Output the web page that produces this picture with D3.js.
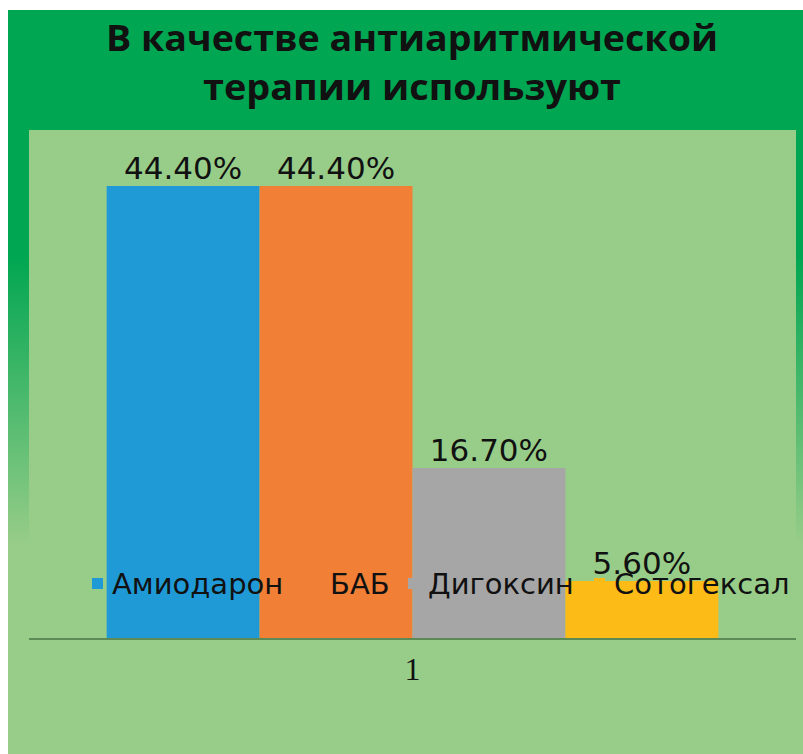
<!DOCTYPE html>
<html>
<head>
<meta charset="utf-8">
<script src="https://cdn.jsdelivr.net/npm/d3@7"></script>
<style>
  html, body { margin: 0; padding: 0; background: #fff; }
  svg { display: block; }
</style>
</head>
<body>
<svg id="chart" width="803" height="754"></svg>
<script>
// data
const titleLines = ["В качестве антиаритмической", "терапии используют"];
const categories = ["1"];
const seriesNames = ["Амиодарон", "БАБ", "Дигоксин", "Сотогексал"];
const seriesValues = [44.4, 44.4, 16.7, 5.6];
const seriesColors = ["#1f9ad6", "#f27f36", "#a6a6a6", "#fdbb17"];

const svg = d3.select("#chart");
const W = 803, H = 754;

// background: dark green frame fading into the light plot green
const defs = svg.append("defs");
const grad = defs.append("linearGradient")
    .attr("id", "bg").attr("x1", 0).attr("y1", 0).attr("x2", 0).attr("y2", 1);
grad.append("stop").attr("offset", 0).attr("stop-color", "#00a651");
grad.append("stop").attr("offset", 0.33).attr("stop-color", "#00a651");
grad.append("stop").attr("offset", 0.72).attr("stop-color", "#98cd89");
grad.append("stop").attr("offset", 1).attr("stop-color", "#98cd89");

svg.append("rect").attr("x", 8).attr("y", 10).attr("width", W - 8).attr("height", H - 10)
    .attr("fill", "url(#bg)");

const plot = { left: 29, right: 796, top: 130, bottom: H };
svg.append("rect")
    .attr("x", plot.left).attr("y", plot.top)
    .attr("width", plot.right - plot.left).attr("height", plot.bottom - plot.top)
    .attr("fill", "#98cd89");

// title
svg.append("g").selectAll("text")
    .data(titleLines)
    .join("text")
    .attr("x", 412)
    .attr("y", (d, i) => 51 + i * 49)
    .attr("text-anchor", "middle")
    .attr("font-family", "'Open Sans', 'Noto Sans', sans-serif")
    .attr("font-weight", 700)
    .attr("font-size", 36)
    .attr("fill", "#111")
    .attr("textLength", (d, i) => i === 0 ? 612 : 418)
    .attr("lengthAdjust", "spacingAndGlyphs")
    .text(d => d);

// scales
const baseY = 638;
const y = d3.scaleLinear().domain([0, 44.4]).range([baseY, 186]);
const x0 = d3.scaleBand().domain(categories).range([plot.left, plot.right])
    .paddingInner(0).paddingOuter(0.127);
const x1 = d3.scaleBand().domain(seriesNames).range([0, x0.bandwidth()]).padding(0);

const bars = svg.append("g");
categories.forEach(cat => {
    const g = bars.append("g").attr("transform", `translate(${x0(cat)},0)`);
    g.selectAll("rect")
        .data(seriesNames.map((s, i) => ({ s, v: seriesValues[i], c: seriesColors[i] })))
        .join("rect")
        .attr("x", d => x1(d.s))
        .attr("y", d => y(d.v))
        .attr("width", x1.bandwidth())
        .attr("height", d => baseY - y(d.v))
        .attr("fill", d => d.c);

    g.selectAll("text")
        .data(seriesNames.map((s, i) => ({ s, v: seriesValues[i] })))
        .join("text")
        .attr("x", d => x1(d.s) + x1.bandwidth() / 2)
        .attr("y", d => y(d.v) - 7)
        .attr("text-anchor", "middle")
        .attr("font-family", "'DejaVu Sans', sans-serif")
        .attr("font-size", 31)
        .attr("fill", "#111")
        .text(d => d.v.toFixed(2) + "%");
});

// category axis
svg.append("line")
    .attr("x1", plot.left).attr("x2", plot.right)
    .attr("y1", baseY + 1).attr("y2", baseY + 1)
    .attr("stroke", "#5c8a55").attr("stroke-width", 2);

svg.append("g").selectAll("text")
    .data(categories)
    .join("text")
    .attr("x", d => x0(d) + x0.bandwidth() / 2)
    .attr("y", 680)
    .attr("text-anchor", "middle")
    .attr("font-family", "'Liberation Serif', 'DejaVu Serif', serif")
    .attr("font-size", 32)
    .attr("fill", "#111")
    .text(d => d);

// legend (sits on top of the bars, as in the original)
const legendX = [92, 310, 408, 594];
const legend = svg.append("g");
const items = legend.selectAll("g")
    .data(seriesNames)
    .join("g")
    .attr("transform", (d, i) => `translate(${legendX[i]},578)`);
items.append("rect")
    .attr("width", 11).attr("height", 11)
    .attr("fill", (d, i) => seriesColors[i]);
items.append("text")
    .attr("x", 20).attr("y", 16)
    .attr("font-family", "'DejaVu Sans', sans-serif")
    .attr("font-size", 29)
    .attr("fill", "#111")
    .text(d => d);
</script>
</body>
</html>
